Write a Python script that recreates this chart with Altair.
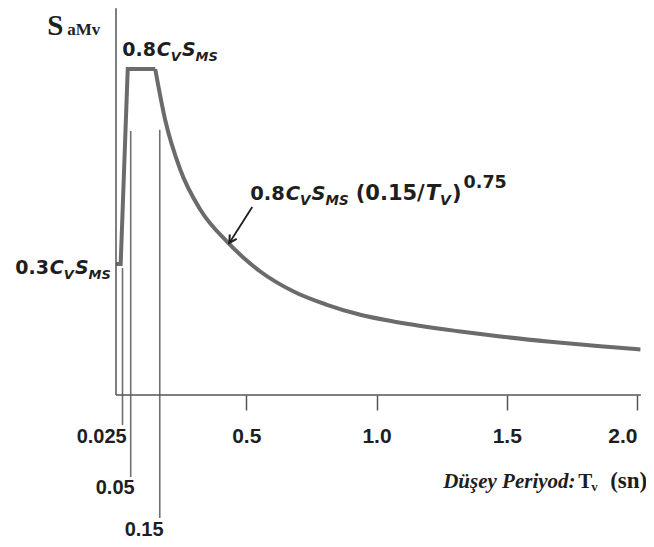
import altair as alt
import pandas as pd

# ---------------- data ----------------
# spectrum: linear rise + plateau
rise_T = [0.0, 0.018, 0.045, 0.1505]
rise_S = [0.30, 0.30, 0.80, 0.80]
# spectrum: decaying branch
decay_T = [0.1505, 0.1889, 0.2465, 0.3233, 0.4270, 0.4885, 0.5538, 0.6817,
           0.8099, 0.9378, 1.0645, 1.3218, 1.4754, 1.6674, 1.8594, 2.0131]
decay_S = [0.800, 0.6692, 0.5423, 0.4397, 0.3567, 0.3167, 0.2808, 0.2295,
           0.1954, 0.1697, 0.1526, 0.1269, 0.1141, 0.1005, 0.0890, 0.0808]
# thin vertical reference lines (corner periods)
ref_T = [0.025, 0.0565, 0.168]
ref_top = [0.29, 0.641, 0.644]
ref_bottom = [-0.113, -0.246, -0.351]
ref_labels = ["0.025", "0.05", "0.15"]
ref_label_T = [-0.055, -0.003, 0.108]
ref_label_S = [-0.144, -0.274, -0.382]
# x axis ticks
x_ticks = [0.5, 1.0, 1.5, 2.0]
# arrow (tail -> tip)
arrow_T = [0.523, 0.435]
arrow_S = [0.446, 0.354]

# ---------------- layout ----------------
W, H = 521, 381
PAD_TOP = 6
X_DOM = [0.0, 2.0]
Y_DOM = [-0.0359, 0.941]
Y_AXIS_TOP = 0.956
X_AXIS_END = 2.015
GREY = "#6b6b6b"
AXIS = "#555555"
INK = "#1e1e1e"
SANS = "Liberation Sans"
WIDE = "DejaVu Sans"
SERIF = "Liberation Serif"

xs = alt.Scale(domain=X_DOM, nice=False, zero=False)
ys = alt.Scale(domain=Y_DOM, nice=False, zero=False)
X_AX = alt.Axis(values=x_ticks, format=".1f", title=None, grid=False, domain=False,
                tickColor=AXIS, tickWidth=1.5, tickSize=15,
                labelFont=SANS, labelFontWeight="bold", labelFontSize=21, labelColor=INK,
                labelPadding=15)
Y_AX = alt.Axis(title=None, grid=False, ticks=False, labels=False, domain=False)


def X(field="T"):
    return alt.X(f"{field}:Q", scale=xs, axis=X_AX)


def Y(field="S"):
    return alt.Y(f"{field}:Q", scale=ys, axis=Y_AX)


rise_df = pd.DataFrame({"T": rise_T, "S": rise_S})
decay_df = pd.DataFrame({"T": decay_T, "S": decay_S})
ref_df = pd.DataFrame({"T": ref_T, "top": ref_top, "bottom": ref_bottom})
reflab_df = pd.DataFrame({"T": ref_label_T, "S": ref_label_S, "txt": ref_labels})

yaxis_line = alt.Chart(pd.DataFrame({"T": [0.0], "S": [Y_DOM[0]], "S2": [Y_AXIS_TOP]})).mark_rule(
    color=AXIS, strokeWidth=1.5).encode(x=X(), y=Y(), y2="S2:Q")
xaxis_line = alt.Chart(pd.DataFrame({"T": [0.0], "T2": [X_AXIS_END], "S": [Y_DOM[0]]})).mark_rule(
    color=AXIS, strokeWidth=1.5).encode(x=X(), x2="T2:Q", y=Y())

rise = alt.Chart(rise_df).mark_line(color=GREY, strokeWidth=4, strokeJoin="miter").encode(x=X(), y=Y())
decay = alt.Chart(decay_df).mark_line(color=GREY, strokeWidth=4, interpolate="monotone").encode(x=X(), y=Y())

refs = alt.Chart(ref_df).mark_rule(color="#707070", strokeWidth=1.6).encode(
    x=X(), y=Y("top"), y2="bottom:Q")

reflabs = alt.Chart(reflab_df).mark_text(
    font=SANS, fontWeight="bold", fontSize=20, color=INK, baseline="middle", align="center"
).encode(x=X(), y=Y(), text="txt:N")

arrow_df = pd.DataFrame({"T": [arrow_T[0]], "T2": [arrow_T[1]], "S": [arrow_S[0]], "S2": [arrow_S[1]]})
arrow_line = alt.Chart(arrow_df).mark_rule(color=INK, strokeWidth=1.8).encode(
    x=X(), x2="T2:Q", y=Y(), y2="S2:Q")
arrow_head = alt.Chart(pd.DataFrame({"T": [arrow_T[1]], "S": [arrow_S[1]]})).mark_point(
    shape="M-0.55,1L0,0L0.55,1", filled=False, color=INK, strokeWidth=2,
    size=220, angle=212, opacity=1
).encode(x=X(), y=Y())

# DejaVu Sans Bold advance widths (per 1000 em)
WID = {".": 380, "(": 457, ")": 457, "/": 365, " ": 348, "C": 734, "V": 774,
       "S": 720, "M": 995, "T": 682}
for d in "0123456789":
    WID[d] = 696


def text_w(s, size):
    return sum(WID.get(c, 650) for c in s) * size / 1000.0


def px_T(px):
    return (px - 115.8) / (W / (X_DOM[1] - X_DOM[0]))


def py_S(py):
    return Y_DOM[1] - (py - 8 - PAD_TOP) / H * (Y_DOM[1] - Y_DOM[0])


def piece(t, s, text, dx=0.0, dy=0, size=18, font=WIDE, style="normal", weight="bold"):
    return alt.Chart(pd.DataFrame({"T": [t], "S": [s]})).mark_text(
        text=text, dx=dx, dy=dy, fontSize=size, font=font, fontStyle=style,
        fontWeight=weight, align="left", baseline="alphabetic", color=INK
    ).encode(x=X(), y=Y())


def rich(px, py, parts):
    """parts: (text, size, style, dy, gap_before)"""
    t0, s0 = px_T(px), py_S(py)
    out, cur = [], 0.0
    for text, size, style, dy, gap in parts:
        cur += gap
        out.append(piece(t0, s0, text, cur, dy, size, style=style))
        cur += text_w(text, size)
    return out


def cvsms(num, f, fs):
    return [(num, f, "normal", 0, 0), ("C", f, "italic", 0, 1), ("V", fs, "italic", 5, 0),
            ("S", f, "italic", 0, 1), ("MS", fs, "italic", 5, 0)]


texts = []
# y-axis label S_aMv
t0, s0 = px_T(47), py_S(35)
texts += [piece(t0, s0, "S", 0, 0, 29, SERIF), piece(t0, s0, "aMv", 20, 0, 17, SERIF)]
# labels
texts += rich(122, 56, cvsms("0.8", 19, 13))
texts += rich(15, 274, cvsms("0.3", 19, 13))
texts += rich(250, 200, cvsms("0.8", 19.5, 13.5) + [
    ("(0.15/", 21, "normal", 0, 7), ("T", 21, "italic", 0, 1), ("V", 14, "italic", 5, 0),
    (")", 21, "normal", 0, 1), ("0.75", 17.5, "normal", -12, 2)])
# x-axis title
t0, s0 = px_T(443), py_S(488)
texts += [piece(t0, s0, "Düşey Periyod:", 0, 0, 21, SERIF, "italic"),
          piece(t0, s0, "T", 135, 0, 21, SERIF), piece(t0, s0, "v", 148, 3, 13, SERIF),
          piece(t0, s0, "(sn)", 167, 0, 23, SERIF)]

chart = alt.layer(refs, rise, decay, xaxis_line, yaxis_line, arrow_line, arrow_head, reflabs,
                  *texts).properties(
    width=W, height=H,
    autosize=alt.AutoSizeParams(type="none"),
    padding={"left": 108, "top": PAD_TOP, "right": 9, "bottom": 144},
).configure_view(stroke=None)

chart.save("out.html", embed_options={"renderer": "svg", "actions": False})
